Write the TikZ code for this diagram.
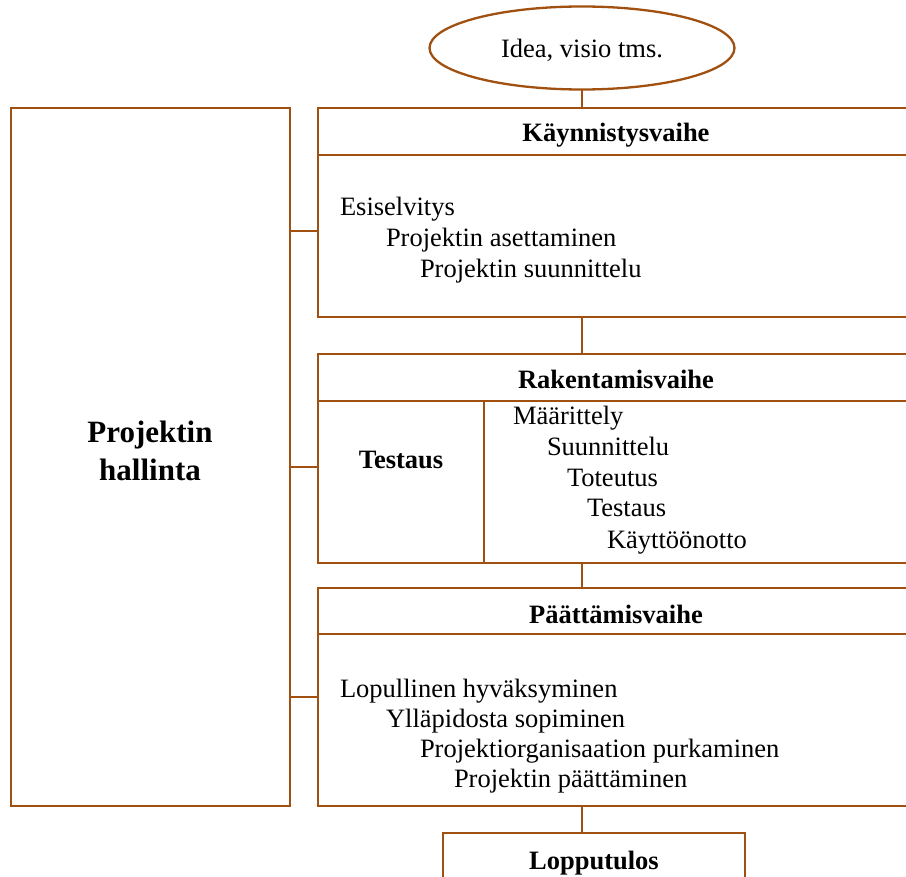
\documentclass[tikz,border=0pt]{standalone}
\usepackage{fontspec}
\setmainfont{Liberation Serif}
\usetikzlibrary{shapes.geometric,calc}
\definecolor{brn}{RGB}{160,80,16}
\begin{document}
\begin{tikzpicture}[x=1pt,y=-1pt,
  every node/.style={inner sep=0pt,outer sep=0pt},
  box/.style={draw=brn,line width=2.3pt,rectangle,anchor=north west},
  conn/.style={draw=brn,line width=1.6pt},
  txt/.style={anchor=base west,font=\fontsize{26.5}{31}\selectfont},
  head/.style={anchor=base,font=\fontsize{26.5}{31}\selectfont\bfseries}]
\useasboundingbox (0,0) rectangle (906,877);
\clip (0,0) rectangle (906,877);
% boxes
\node[draw=brn,line width=2.3pt,ellipse,minimum width=305pt,minimum height=83pt] (E) at (582,48) {};
\node[font=\fontsize{26.5}{31}\selectfont] (Et) at (582,50) {Idea, visio tms.};
\node[box,minimum width=279pt,minimum height=698pt] (L) at (11,108) {};
\node[box,minimum width=610pt,minimum height=209pt] (K) at (318,108) {};
\node[box,minimum width=610pt,minimum height=209pt] (R) at (318,354) {};
\node[box,minimum width=610pt,minimum height=218pt] (P) at (318,588) {};
\node[box,minimum width=302pt,minimum height=80pt] (O) at (443,833) {};
% header lines
\coordinate (kh) at (0,155);
\coordinate (rh) at (0,401);
\coordinate (ph) at (0,634);
\coordinate (rd) at (484,0);
\draw[draw=brn,line width=2.3pt] (K.west |- kh) -- (K.east |- kh);
\draw[draw=brn,line width=2.3pt] (R.west |- rh) -- (R.east |- rh);
\draw[draw=brn,line width=2.3pt] (P.west |- ph) -- (P.east |- ph);
\draw[draw=brn,line width=2.3pt] (rd |- rh) -- (rd |- R.south);
% vertical connectors
\draw[conn] (E.south) -- (E.south |- K.north);
\draw[conn] (E.south |- K.south) -- (E.south |- R.north);
\draw[conn] (E.south |- R.south) -- (E.south |- P.north);
\draw[conn] (E.south |- P.south) -- (E.south |- O.north);
% side connectors
\coordinate (c1) at (0,231);
\coordinate (c2) at (0,467);
\coordinate (c3) at (0,697);
\draw[conn] (L.east |- c1) -- (K.west |- c1);
\draw[conn] (L.east |- c2) -- (R.west |- c2);
\draw[conn] (L.east |- c3) -- (P.west |- c3);
% texts
\node[head,font=\fontsize{31}{38}\selectfont\bfseries] (h1) at (150,443) {Projektin};
\node[head,font=\fontsize{31}{38}\selectfont\bfseries] (h2) at (150,481) {hallinta};
\node[head] (kt) at (616,142) {Käynnistysvaihe};
\node[head] (rt) at (616,389) {Rakentamisvaihe};
\node[head] (pt) at (616,623) {Päättämisvaihe};
\node[head] (tt) at (401,469) {Testaus};
\node[head] (ot) at (594,869) {Lopputulos};
\node[txt] (k1) at (340,216) {Esiselvitys};
\node[txt] (k2) at (386,247) {Projektin asettaminen};
\node[txt] (k3) at (420,278) {Projektin suunnittelu};
\node[txt] (r1) at (513,425) {Määrittely};
\node[txt] (r2) at (547,456) {Suunnittelu};
\node[txt] (r3) at (567,487) {Toteutus};
\node[txt] (r4) at (587,517) {Testaus};
\node[txt] (r5) at (607,548) {Käyttöönotto};
\node[txt] (p1) at (340,697) {Lopullinen hyväksyminen};
\node[txt] (p2) at (386,727) {Ylläpidosta sopiminen};
\node[txt] (p3) at (420,757) {Projektiorganisaation purkaminen};
\node[txt] (p4) at (454,787) {Projektin päättäminen};
\end{tikzpicture}
\end{document}
